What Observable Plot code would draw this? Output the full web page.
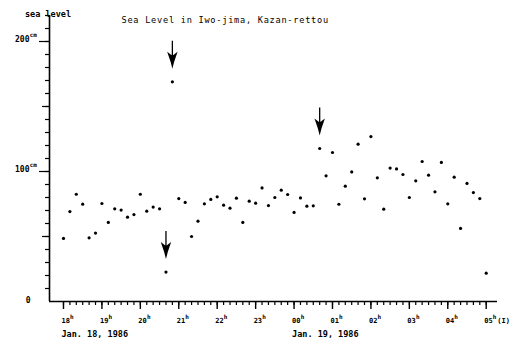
<!DOCTYPE html>
<html>
<head>
<meta charset="utf-8">
<script src="https://cdn.jsdelivr.net/npm/d3@7"></script>
<script src="https://cdn.jsdelivr.net/npm/@observablehq/plot@0.6"></script>
<style>
  html, body { margin: 0; padding: 0; background: #fff; }
  svg { display: block; }
  svg text { fill: #000; }
</style>
</head>
<body>
<div id="chart"></div>
<script>
// Sea level (cm), sampled every 10 minutes from 18:00 Jan 18 to 05:00 Jan 19, 1986
const seaLevel = [
  48.5, 69.2, 82.5, 74.9, 49.0, 52.6, 75.4, 60.8, 71.3, 70.3, 64.9, 66.9,
  82.5, 69.5, 72.6, 71.3, 22.6, 169.0, 79.2, 76.2, 50.0, 61.8, 75.1, 78.5,
  80.5, 74.1, 71.8, 79.5, 60.8, 77.2, 75.6, 87.4, 73.8, 80.0, 85.6, 82.3,
  68.5, 79.7, 73.3, 73.6, 117.7, 96.7, 114.6, 74.8, 88.7, 99.7, 121.0, 79.0,
  126.9, 95.1, 71.0, 102.6, 102.0, 97.7, 80.0, 92.8, 107.7, 97.2, 84.4, 107.0,
  75.1, 95.6, 56.2, 90.8, 83.8, 79.2, 21.8
];
const sampleMinutes = 10;              // sampling interval
const hourLabels = ["18","19","20","21","22","23","00","01","02","03","04","05"];
const dateLabels = ["Jan. 18, 1986", "Jan. 19, 1986"];
const dateHours = [0, 6];              // hours after 18:00 where the date labels sit
const yLabels = [100, 200];
const yMajor = [50, 150];
const arrowIdx = [16, 17, 40];         // samples marked with arrows
const title = "Sea Level in Iwo-jima, Kazan-rettou";
const yTitle = "sea level";

const data = seaLevel.map((v, i) => ({t: i * sampleMinutes / 60, v}));
const xmin = -0.364, xmax = 11.294;
const minorX = d3.range(0, 11 + 1e-9, 1 / 6);
const majorX = d3.range(0, 12);
const minorY = d3.range(10, 221, 10);
const font = "'DejaVu Sans Mono', monospace";

const arrowSymbol = {
  draw(ctx) {
    // shaft
    ctx.moveTo(-0.65, -12); ctx.lineTo(-0.65, -28); ctx.lineTo(0.65, -28); ctx.lineTo(0.65, -12); ctx.closePath();
    // head (tip at origin)
    ctx.moveTo(0, 0); ctx.lineTo(-1.8, -7); ctx.lineTo(-5.2, -17); ctx.lineTo(0, -13);
    ctx.lineTo(5.2, -17); ctx.lineTo(1.8, -7); ctx.closePath();
  }
};

const noText = () => "";
const chart = Plot.plot({
  width: 515,
  height: 341,
  marginLeft: 49,
  marginRight: 18,
  marginTop: 15,
  marginBottom: 40,
  style: {background: "#fff", fontFamily: font, color: "#000"},
  x: {type: "linear", domain: [xmin, xmax]},
  y: {domain: [0, 220]},
  marks: [
    Plot.axisX(minorX, {tickSize: 4, tickFormat: noText, label: null, strokeWidth: 1.2}),
    Plot.axisX(majorX, {tickSize: 8, tickFormat: noText, label: null, strokeWidth: 1.4}),
    Plot.axisY(minorY, {tickSize: 4, tickFormat: noText, label: null, strokeWidth: 1.2}),
    Plot.axisY(yMajor, {tickSize: 7, tickFormat: noText, label: null, strokeWidth: 1.2}),
    Plot.axisY(yLabels, {tickSize: 10, tickFormat: noText, label: null, strokeWidth: 1.2}),
    Plot.ruleX([xmin], {strokeWidth: 1.6}),
    Plot.ruleY([0], {strokeWidth: 1.6}),
    // hour labels
    Plot.text(hourLabels, {x: (d, i) => i, y: () => 0, text: d => d, dx: -2, dy: 19.5, fill: "#000",
      textAnchor: "start", fontSize: 7, fontWeight: "bold", fontFamily: font}),
    Plot.text(hourLabels, {x: (d, i) => i, y: () => 0, text: () => "h", dx: 6.6, dy: 15.5, fill: "#000",
      textAnchor: "start", fontSize: 6, fontWeight: "bold", fontFamily: font}),
    Plot.text(["(I)"], {x: () => 11, y: () => 0, text: d => d, dx: 11, dy: 19.5, fill: "#000",
      textAnchor: "start", fontSize: 7, fontWeight: "bold", fontFamily: font}),
    Plot.text(dateLabels, {x: (d, i) => dateHours[i], y: () => 0, text: d => d, dx: -2, dy: 33, fill: "#000",
      textAnchor: "start", fontSize: 8.5, fontWeight: "bold", fontFamily: font}),
    // y labels
    Plot.text(yLabels, {x: () => xmin, y: d => d, text: d => String(d), dx: -20, dy: -2, fill: "#000",
      textAnchor: "end", fontSize: 8, fontWeight: "bold", fontFamily: font}),
    Plot.text(yLabels, {x: () => xmin, y: d => d, text: () => "cm", dx: -19.8, dy: -6, fill: "#000",
      textAnchor: "start", fontSize: 6, fontWeight: "bold", fontFamily: font}),
    Plot.text([0], {x: () => xmin, y: d => d, text: d => String(d), dx: -19, dy: -1.5, fill: "#000",
      textAnchor: "end", fontSize: 8, fontWeight: "bold", fontFamily: font}),
    // titles
    Plot.text([yTitle], {frameAnchor: "top-left", text: d => d, dx: -1.5, dy: -4.5, fill: "#000",
      textAnchor: "middle", fontSize: 8.5, fontWeight: "bold", fontFamily: font}),
    Plot.text([title], {frameAnchor: "top-left", text: d => d, dx: 72, dy: 1, fill: "#000",
      textAnchor: "start", fontSize: 8.6, fontFamily: font}),
    // data
    Plot.dot(data, {x: "t", y: "v", r: 1.6, fill: "#000", stroke: "none"}),
    Plot.dot(arrowIdx, {x: i => data[i].t, y: i => data[i].v, dy: -13, symbol: arrowSymbol,
      fill: "#000", stroke: "none"})
  ]
});
// letter-spacing for title
d3.select(chart).selectAll("text").filter(function() { return this.textContent === title; })
  .style("letter-spacing", "0.75px");
document.getElementById("chart").append(chart);
</script>
</body>
</html>
